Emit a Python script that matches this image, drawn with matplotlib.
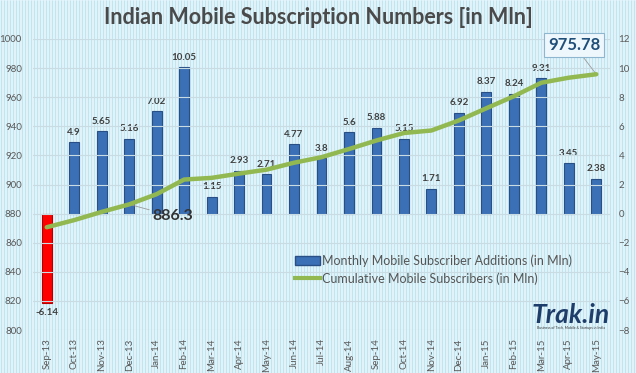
import numpy as np
import matplotlib
matplotlib.use("Agg")
import matplotlib.pyplot as plt
from matplotlib.lines import Line2D
from matplotlib.patches import Patch

plt.rcParams['font.family'] = ['Lato', 'DejaVu Sans']

months = ['Sep-13', 'Oct-13', 'Nov-13', 'Dec-13', 'Jan-14', 'Feb-14', 'Mar-14',
          'Apr-14', 'May-14', 'Jun-14', 'Jul-14', 'Aug-14', 'Sep-14', 'Oct-14',
          'Nov-14', 'Dec-14', 'Jan-15', 'Feb-15', 'Mar-15', 'Apr-15', 'May-15']
monthly_adds = [-6.14, 4.9, 5.65, 5.16, 7.02, 10.05, 1.15, 2.93, 2.71, 4.77, 3.8,
                5.6, 5.88, 5.15, 1.71, 6.92, 8.37, 8.24, 9.31, 3.45, 2.38]
cumulative = [870.63, 875.53, 881.18, 886.34, 893.36, 903.41, 904.56, 907.49,
              910.20, 914.97, 918.77, 924.37, 930.25, 935.40, 937.11, 944.03,
              952.40, 960.64, 969.95, 973.40, 975.78]
left_ticks = [800, 820, 840, 860, 880, 900, 920, 940, 960, 980, 1000]
right_ticks = [-8, -6, -4, -2, 0, 2, 4, 6, 8, 10, 12]

W, H = 636, 373
fig = plt.figure(figsize=(W / 100, H / 100), dpi=100)
fig.patch.set_facecolor('#e6f6fb')

# striped background over the whole picture
bg = fig.add_axes([0, 0, 1, 1], zorder=-10)
bg.set_xlim(0, W)
bg.set_ylim(0, H)
bg.axis('off')
bg.vlines(np.arange(1, W, 3), 0, H, color='#bfe5f1', lw=0.9)

x = np.arange(len(months))

ax2 = fig.add_axes([33 / W, 43 / H, 577 / W, 291 / H])
ax2.patch.set_visible(False)
ax1 = ax2.twinx()
ax1.yaxis.tick_left()
ax2.yaxis.tick_right()
ax1.set_zorder(ax2.get_zorder() + 1)
ax1.patch.set_visible(False)

bar_colors = ['#ff0000' if v < 0 else '#3b70b6' for v in monthly_adds]
edge_colors = ['#b00000' if v < 0 else '#284f86' for v in monthly_adds]
ax2.bar(x, monthly_adds, width=0.36, color=bar_colors, edgecolor=edge_colors,
        linewidth=0.8, zorder=3)
for xi, v in zip(x, monthly_adds):
    if v < 0:
        ax2.annotate(f'{v:g}', (xi, v), xytext=(0, -4), textcoords='offset points',
                     ha='center', va='top', fontsize=7, fontweight='bold', color='#404040')
    else:
        ax2.annotate(f'{v:g}', (xi, v), xytext=(0, 4), textcoords='offset points',
                     ha='center', va='bottom', fontsize=7, fontweight='bold', color='#404040')

ax1.plot(x, cumulative, color='#92b852', lw=3.2, solid_capstyle='round', zorder=4)

ax1.set_xlim(-0.5, 20.5)
ax1.set_ylim(800, 1000)
ax2.set_ylim(-8, 12)
ax1.set_yticks(left_ticks)
ax2.set_yticks(right_ticks)
ax2.set_xticks(x)
ax2.set_xticklabels(months, rotation=90, fontsize=7, color='#595959')
ax1.tick_params(axis='y', labelsize=7, labelcolor='#595959', length=0, pad=8)
ax2.tick_params(axis='y', labelsize=7, labelcolor='#595959', length=0, pad=6)
ax2.tick_params(axis='x', length=0, pad=6)
for a in (ax1, ax2):
    for s in a.spines.values():
        s.set_visible(False)
for t in left_ticks:
    ax1.axhline(t, color='#c9dbe3', lw=0.8, zorder=0)

ax1.annotate('975.78', xy=(x[-1], cumulative[-1]), xytext=(574, H - 45),
             textcoords='figure pixels', ha='center', va='center',
             fontsize=12, fontweight='bold', color='#1f4e79',
             bbox=dict(boxstyle='square,pad=0.25', fc='#eef8fc', ec='#8fb6cf', lw=0.8),
             arrowprops=dict(arrowstyle='-', color='#9a9a9a', lw=0.6,
                             shrinkA=0, shrinkB=0))
ax1.annotate('886.3', xy=(x[3], cumulative[3]), xytext=(152, H - 216),
             textcoords='figure pixels', ha='left', va='center',
             fontsize=11.5, fontweight='bold', color='#333333',
             arrowprops=dict(arrowstyle='-', color='#9a9a9a', lw=0.6,
                             shrinkA=0, shrinkB=0))

handles = [Patch(facecolor='#3b70b6', edgecolor='#284f86'),
           Line2D([0], [0], color='#92b852', lw=3)]
fig.legend(handles, ['Monthly Mobile Subscriber Additions (in Mln)',
                     'Cumulative Mobile Subscribers (in Mln)'],
           loc='upper left', bbox_to_anchor=(290 / W, 1 - 249 / H), frameon=False,
           fontsize=9, labelcolor='#555555', handlelength=2.0, handletextpad=0.2,
           labelspacing=0.45, borderaxespad=0)

fig.text(0.5, 1 - 18 / H, 'Indian Mobile Subscription Numbers [in Mln]',
         ha='center', va='center', fontsize=15.5, fontweight='bold', color='#4a4a4a')

fig.text(571 / W, 1 - 315 / H, 'Trak.in', ha='center', va='center', fontsize=19,
         fontweight='bold', style='italic', color='#1f3d6b')
fig.text(571 / W, 1 - 328 / H, 'Business of Tech, Mobile & Startups in India',
         ha='center', va='center', fontsize=2.5, color='#333333')

fig.savefig('out.png', dpi=100, facecolor=fig.get_facecolor())
